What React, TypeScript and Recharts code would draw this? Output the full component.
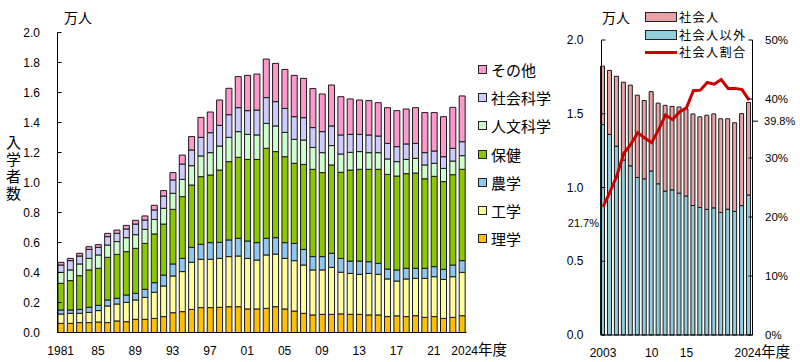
import React from 'react';
import { BarChart, Bar, XAxis, YAxis, ComposedChart, Line, LabelList } from 'recharts';

const FONT = '"Liberation Sans", Arial, "Noto Sans CJK JP", sans-serif';
const JP = '"Noto Sans CJK JP", sans-serif';

// 入学者数 (万人), 1981-2024
const YEARS = [
  1981, 1982, 1983, 1984, 1985, 1986, 1987, 1988, 1989, 1990,
  1991, 1992, 1993, 1994, 1995, 1996, 1997, 1998, 1999, 2000,
  2001, 2002, 2003, 2004, 2005, 2006, 2007, 2008, 2009, 2010,
  2011, 2012, 2013, 2014, 2015, 2016, 2017, 2018, 2019, 2020,
  2021, 2022, 2023, 2024,
];
const RIGAKU = [
  0.061, 0.061, 0.066, 0.066, 0.070, 0.066, 0.077, 0.072, 0.088, 0.088,
  0.094, 0.106, 0.132, 0.139, 0.154, 0.166, 0.166, 0.168, 0.172, 0.172,
  0.157, 0.157, 0.161, 0.172, 0.157, 0.143, 0.128, 0.117, 0.121, 0.121,
  0.124, 0.121, 0.121, 0.117, 0.117, 0.106, 0.111, 0.106, 0.112, 0.101,
  0.106, 0.094, 0.101, 0.112,
];
const KOGAKU = [
  0.062, 0.067, 0.062, 0.068, 0.076, 0.111, 0.113, 0.129, 0.129, 0.146,
  0.174, 0.204, 0.245, 0.267, 0.314, 0.322, 0.322, 0.326, 0.334, 0.338,
  0.337, 0.326, 0.356, 0.351, 0.337, 0.336, 0.322, 0.300, 0.296, 0.313,
  0.278, 0.273, 0.267, 0.277, 0.271, 0.251, 0.232, 0.251, 0.249, 0.260,
  0.266, 0.260, 0.271, 0.289,
];
const NOGAKU = [
  0.027, 0.022, 0.026, 0.034, 0.035, 0.040, 0.038, 0.049, 0.044, 0.054,
  0.064, 0.073, 0.080, 0.088, 0.100, 0.100, 0.111, 0.107, 0.111, 0.118,
  0.116, 0.116, 0.111, 0.109, 0.105, 0.115, 0.104, 0.089, 0.089, 0.094,
  0.092, 0.082, 0.088, 0.078, 0.073, 0.066, 0.074, 0.071, 0.067, 0.067,
  0.067, 0.067, 0.078, 0.078,
];
const HOKEN = [
  0.178, 0.196, 0.225, 0.249, 0.247, 0.284, 0.293, 0.289, 0.300, 0.306,
  0.325, 0.340, 0.364, 0.412, 0.415, 0.451, 0.451, 0.482, 0.522, 0.540,
  0.544, 0.555, 0.600, 0.574, 0.573, 0.534, 0.567, 0.582, 0.560, 0.589,
  0.574, 0.607, 0.612, 0.616, 0.627, 0.631, 0.626, 0.631, 0.635, 0.597,
  0.602, 0.585, 0.602, 0.609,
];
const JINBUN = [
  0.073, 0.071, 0.078, 0.077, 0.089, 0.082, 0.085, 0.093, 0.091, 0.094,
  0.097, 0.105, 0.107, 0.115, 0.129, 0.138, 0.149, 0.160, 0.162, 0.171,
  0.167, 0.163, 0.166, 0.171, 0.162, 0.160, 0.162, 0.146, 0.133, 0.129,
  0.122, 0.118, 0.118, 0.111, 0.111, 0.103, 0.096, 0.095, 0.098, 0.092,
  0.087, 0.088, 0.091, 0.091,
];
const SHAKAI = [
  0.049, 0.062, 0.053, 0.060, 0.051, 0.056, 0.055, 0.058, 0.071, 0.062,
  0.063, 0.082, 0.089, 0.102, 0.105, 0.124, 0.133, 0.138, 0.151, 0.160,
  0.158, 0.166, 0.172, 0.162, 0.160, 0.151, 0.149, 0.132, 0.140, 0.131,
  0.127, 0.120, 0.115, 0.118, 0.111, 0.104, 0.100, 0.103, 0.100, 0.082,
  0.082, 0.078, 0.085, 0.093,
];
const SONOTA = [
  0.018, 0.015, 0.018, 0.018, 0.018, 0.022, 0.022, 0.024, 0.025, 0.027,
  0.031, 0.036, 0.049, 0.060, 0.089, 0.133, 0.138, 0.169, 0.176, 0.207,
  0.235, 0.240, 0.257, 0.255, 0.260, 0.275, 0.262, 0.260, 0.251, 0.273,
  0.255, 0.236, 0.229, 0.229, 0.222, 0.238, 0.240, 0.233, 0.238, 0.267,
  0.256, 0.267, 0.273, 0.305,
];
const LEFT_TICKS: Record<number, string> = {
  1981: '1981', 1985: '85', 1989: '89', 1993: '93', 1997: '97', 2001: '01',
  2005: '05', 2009: '09', 2013: '13', 2017: '17', 2021: '21', 2024: '2024',
};

// 社会人 / 社会人以外 (万人), 2003-2024
const R_YEARS = [
  2003, 2004, 2005, 2006, 2007, 2008, 2009, 2010, 2011, 2012,
  2013, 2014, 2015, 2016, 2017, 2018, 2019, 2020, 2021, 2022,
  2023, 2024,
];
const IGAI = [
  1.427, 1.360, 1.280, 1.186, 1.147, 1.068, 1.059, 1.112, 1.025, 0.976,
  0.984, 0.962, 0.942, 0.878, 0.865, 0.852, 0.862, 0.831, 0.853, 0.838,
  0.877, 0.949,
];
const SHAKAIJIN = [
  0.396, 0.434, 0.474, 0.528, 0.547, 0.558, 0.531, 0.538, 0.547, 0.581,
  0.566, 0.584, 0.590, 0.621, 0.614, 0.638, 0.637, 0.635, 0.613, 0.601,
  0.624, 0.628,
];
const RATIO = [
  21.7, 24.2, 27.0, 30.8, 32.3, 34.3, 33.4, 32.6, 34.8, 37.3,
  36.5, 37.8, 38.5, 41.4, 41.5, 42.8, 42.5, 43.3, 41.8, 41.8,
  41.6, 39.8,
];
const RIGHT_TICKS: Record<number, string> = { 2003: '2003', 2010: '10', 2015: '15', 2024: '2024' };

const SERIES = [
  { key: '理学', values: RIGAKU, color: '#FFC000' },
  { key: '工学', values: KOGAKU, color: '#FFFF99' },
  { key: '農学', values: NOGAKU, color: '#8EC8F0' },
  { key: '保健', values: HOKEN, color: '#8CC800' },
  { key: '人文科学', values: JINBUN, color: '#CCFFCC' },
  { key: '社会科学', values: SHAKAI, color: '#CCCCFF' },
  { key: 'その他', values: SONOTA, color: '#FF99CC' },
];

const RIGHT_LEGEND = [
  { name: '社会人', color: '#E8A4A4', kind: 'bar' },
  { name: '社会人以外', color: '#92CDDC', kind: 'bar' },
  { name: '社会人割合', color: '#CC0000', kind: 'line' },
];

const leftData = YEARS.map((year, i) => {
  const row: Record<string, number> = { year };
  SERIES.forEach(s => { row[s.key] = s.values[i]; });
  return row;
});

const rightData = R_YEARS.map((year, i) => ({
  year, '社会人以外': IGAI[i], '社会人': SHAKAIJIN[i], '社会人割合': RATIO[i],
}));

const YearTick = ({ x, y, payload, labels, shift }: any) => {
  const label = labels[payload.value];
  if (!label) return null;
  if (label === '2024') {
    return (
      <text x={x - shift} y={y} dy="0.71em" textAnchor="start" fontSize={12} fontFamily={FONT} fill="#000">
        2024<tspan fontFamily={JP} fontSize={14.5}>年度</tspan>
      </text>
    );
  }
  return (
    <text x={x} y={y} dy="0.71em" textAnchor="middle" fontSize={12} fontFamily={FONT} fill="#000">{label}</text>
  );
};

const LeftValueTick = ({ x, y, payload, gap }: any) => (
  <g>
    <line x1={x + gap} x2={x + gap + 4} y1={y} y2={y} stroke="#000" />
    <text x={x} y={y} dy={4} textAnchor="end" fontSize={12} fontFamily={FONT} fill="#000">{payload.value.toFixed(1)}</text>
  </g>
);

const PercentTick = ({ x, y, payload }: any) => (
  <g>
    <line x1={x - 12.5} x2={x - 16.5} y1={y} y2={y} stroke="#000" />
    <text x={x} y={y} dy={3.5} textAnchor="start" fontSize={11.5} fontFamily={FONT} fill="#000">{payload.value}%</text>
  </g>
);

const RatioLabel = ({ x, y, index, value }: any) => {
  if (index === 0) {
    return <text x={x - 4} y={y + 16} dy={4} textAnchor="end" fontSize={11} fontFamily={FONT} fill="#000">{value}%</text>;
  }
  if (index === RATIO.length - 1) {
    return (
      <g>
        <line x1={x + 3} x2={x + 9} y1={y + 21} y2={y + 21} stroke="#000" />
        <text x={x + 15} y={y + 21} dy={4} textAnchor="start" fontSize={11} fontFamily={FONT} fill="#000">{value}%</text>
      </g>
    );
  }
  return null;
};

export default function App() {
  return (
    <div style={{ position: 'absolute', left: 0, top: 0, width: 800, height: 362, background: '#fff', fontFamily: FONT }}>
      <div style={{ position: 'absolute', left: 0, top: 0 }}>
        <BarChart width={560} height={362} data={leftData} margin={{ top: 32.5, right: 93.5, bottom: 0, left: 0 }} barSize={6}>
          <XAxis dataKey="year" height={29.5} interval={0} tickLine={false} tickSize={0} tickMargin={13.5}
            axisLine={{ stroke: '#000' }} padding={{ left: -1.5, right: 0 }}
            tick={<YearTick labels={LEFT_TICKS} shift={10.5} />} />
          <YAxis width={57.5} domain={[0, 2]} ticks={[0, 0.2, 0.4, 0.6, 0.8, 1.0, 1.2, 1.4, 1.6, 1.8, 2.0]}
            tickLine={false} tickSize={0} tickMargin={17.5} axisLine={{ stroke: '#000' }}
            tick={<LeftValueTick gap={17.5} />} />
          {SERIES.map(s => (
            <Bar key={s.key} dataKey={s.key} stackId="a" fill={s.color} stroke="#1a1a1a" strokeWidth={1} isAnimationActive={false} />
          ))}
        </BarChart>
      </div>

      <div style={{ position: 'absolute', left: 560, top: 0 }}>
        <ComposedChart width={240} height={362} data={rightData} margin={{ top: 40, right: 0, bottom: 0, left: 0 }} barSize={4}>
          <XAxis dataKey="year" height={27} interval={0} tickLine={false} tickSize={0} tickMargin={13.5}
            axisLine={{ stroke: '#000' }} padding={{ left: -2, right: 0 }}
            tick={<YearTick labels={RIGHT_TICKS} shift={14.5} />} />
          <YAxis yAxisId="left" width={41.5} domain={[0, 2]} ticks={[0, 0.5, 1.0, 1.5, 2.0]}
            tickLine={false} tickSize={0} tickMargin={18} axisLine={{ stroke: '#000' }}
            tick={<LeftValueTick gap={18} />} />
          <YAxis yAxisId="right" orientation="right" width={47.5} domain={[0, 50]} ticks={[0, 10, 20, 30, 40, 50]}
            tickLine={false} tickSize={0} tickMargin={12.5} axisLine={{ stroke: '#000' }}
            tick={<PercentTick />} />
          <Bar yAxisId="left" dataKey="社会人以外" stackId="r" fill="#92CDDC" stroke="#1a1a1a" strokeWidth={1} isAnimationActive={false} />
          <Bar yAxisId="left" dataKey="社会人" stackId="r" fill="#E8A4A4" stroke="#1a1a1a" strokeWidth={1} isAnimationActive={false} />
          <Line yAxisId="right" dataKey="社会人割合" stroke="#CC0000" strokeWidth={3} dot={false} isAnimationActive={false}>
            <LabelList dataKey="社会人割合" content={<RatioLabel />} />
          </Line>
        </ComposedChart>
      </div>

      <div style={{ position: 'absolute', left: 64, top: 8, fontFamily: JP, fontSize: 14, lineHeight: '18px' }}>万人</div>
      <div style={{
        position: 'absolute', left: 6, top: 135, fontFamily: JP, fontSize: 15, lineHeight: '15px',
        writingMode: 'vertical-rl', textOrientation: 'upright', letterSpacing: 2,
      }}>
        入学者数
      </div>
      <div style={{ position: 'absolute', left: 602, top: 8, fontFamily: JP, fontSize: 14, lineHeight: '18px' }}>万人</div>

      <div style={{ position: 'absolute', left: 478, top: 55, fontFamily: JP, fontSize: 15 }}>
        {[...SERIES].reverse().map(s => (
          <div key={s.key} style={{ display: 'flex', alignItems: 'center', height: 28.3 }}>
            <span style={{ width: 7, height: 7, background: s.color, border: '1px solid #222', marginRight: 4 }} />
            <span>{s.key}</span>
          </div>
        ))}
      </div>

      <div style={{ position: 'absolute', left: 645, top: 8.5, fontFamily: JP, fontSize: 12.2, letterSpacing: 1.3 }}>
        {RIGHT_LEGEND.map(it => (
          <div key={it.name} style={{ display: 'flex', alignItems: 'center', height: 17.7 }}>
            {it.kind === 'bar'
              ? <span style={{ width: 30, height: 8, background: it.color, border: '1px solid #222', marginRight: 2 }} />
              : <span style={{ width: 32, height: 3, background: it.color, marginRight: 2 }} />}
            <span style={{ lineHeight: '17px' }}>{it.name}</span>
          </div>
        ))}
      </div>
    </div>
  );
}
